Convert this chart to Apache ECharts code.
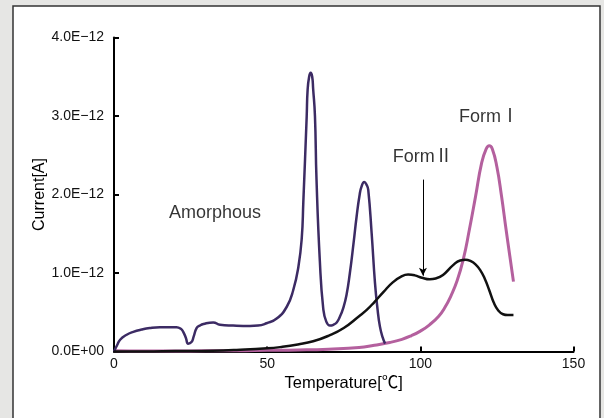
<!DOCTYPE html>
<html>
<head>
<meta charset="utf-8">
<script src="https://cdn.jsdelivr.net/npm/echarts@6/dist/echarts.min.js"></script>
<style>
  html, body { margin: 0; padding: 0; background: #e6e6e4; }
  #chart { width: 604px; height: 418px; }
</style>
</head>
<body>
<div id="chart"></div>
<script>
// Temperature axis (°C) and current readings in units of 1E-12 A
const amorphousT = [0, 1, 2, 4, 6.3, 9, 11.7, 15, 17.2, 20.4, 21.8, 22.6, 23.5, 24.2, 25.3, 26, 27, 28, 29.2, 32.4, 34.6, 38.9, 44.4, 47, 49.8, 53.1, 56.4, 58.5, 60.2, 61.3, 61.8, 62.9, 63.2, 63.7, 64.2, 64.7, 65, 65.6, 66.1, 67.2, 68.3, 69.3, 70.5, 71.6, 72.7, 73.7, 74.8, 75.9, 77, 78.2, 79.2, 80.2, 80.8, 81.7, 82.5, 83, 84.1, 85.2, 86, 86.8, 87.7, 88.5];
const amorphousI = [0, 0.08, 0.15, 0.21, 0.25, 0.28, 0.30, 0.31, 0.31, 0.31, 0.29, 0.25, 0.17, 0.10, 0.12, 0.19, 0.30, 0.33, 0.35, 0.37, 0.34, 0.33, 0.325, 0.33, 0.36, 0.42, 0.57, 0.78, 1.08, 1.45, 1.9, 2.99, 3.33, 3.5, 3.55, 3.5, 3.35, 3.0, 2.2, 1.15, 0.55, 0.38, 0.33, 0.34, 0.37, 0.44, 0.55, 0.72, 1.0, 1.38, 1.72, 2.0, 2.10, 2.16, 2.12, 2.06, 1.51, 0.87, 0.55, 0.32, 0.18, 0.1];

const form2T = [0, 10, 20, 32, 40, 50, 55, 60, 65, 70, 75, 80, 82.5, 85, 88, 91, 94, 96, 98.2, 100.5, 103.1, 105, 107.4, 110.7, 113, 114.8, 116.5, 118, 119.5, 121, 122.5, 124, 125.5, 127, 128.5, 130.4];
const form2I = [0, 0, 0.005, 0.01, 0.02, 0.04, 0.06, 0.09, 0.13, 0.2, 0.3, 0.45, 0.53, 0.63, 0.76, 0.88, 0.96, 0.98, 0.97, 0.94, 0.92, 0.93, 0.975, 1.1, 1.16, 1.17, 1.15, 1.11, 1.04, 0.93, 0.78, 0.62, 0.52, 0.475, 0.465, 0.465];

const form1T = [0, 10, 20, 30, 40, 50, 60, 70, 80, 85, 90, 94, 97, 100, 103, 106, 108, 110, 112, 114, 116, 118, 120, 121.5, 122.5, 123.5, 125, 126.5, 128, 129.2, 130.4];
const form1I = [0.01, 0.005, 0.005, 0.01, 0.01, 0.015, 0.02, 0.03, 0.05, 0.08, 0.115, 0.155, 0.2, 0.26, 0.34, 0.45, 0.56, 0.71, 0.9, 1.17, 1.55, 1.97, 2.4, 2.58, 2.62, 2.58, 2.35, 1.98, 1.55, 1.22, 0.89];

// Axis ticks
const tempTicks = [0, 50, 100, 150];
const currentTicks = [0, 1, 2, 3, 4];

// Curve labels placed in data coordinates
const labelNames = ['Amorphous', 'FormⅡ', 'FormⅠ'];
const labelT = [33, 100.8, 122.4];
const labelI = [1.76, 2.48, 2.99];

// Arrow pointing at the Form II shoulder
const arrowT = 100.85;
const arrowFrom = 2.19;
const arrowTo = 0.965;

const pairs = (xs, ys) => xs.map((x, i) => [x, ys[i]]);
const FONT = '"Liberation Sans", Arial, "Noto Sans CJK JP", sans-serif';

const chart = echarts.init(document.getElementById('chart'), null, { renderer: 'canvas' });

chart.setOption({
  backgroundColor: '#e6e6e4',
  animation: false,
  graphic: [{
    type: 'rect',
    z: -10,
    silent: true,
    shape: { x: 13, y: 6, width: 587, height: 430 },
    style: { fill: '#ffffff', stroke: '#333333', lineWidth: 1.5 }
  }],
  grid: { left: 114, right: 30.5, top: 37.5, bottom: 66.5 },
  xAxis: {
    type: 'value',
    min: tempTicks[0],
    max: tempTicks[tempTicks.length - 1],
    interval: 50,
    name: 'Temperature[℃]',
    nameLocation: 'middle',
    nameGap: 24,
    nameMoveOverlap: false,
    nameTextStyle: { fontFamily: FONT, fontSize: 16.5, color: '#000' },
    axisLine: { lineStyle: { color: '#000', width: 2 } },
    axisTick: { inside: true, length: 5, lineStyle: { color: '#000', width: 2 } },
    axisLabel: { fontFamily: FONT, fontSize: 14, color: '#111', margin: 6 },
    splitLine: { show: false }
  },
  yAxis: {
    type: 'value',
    min: currentTicks[0],
    max: currentTicks[currentTicks.length - 1],
    interval: 1,
    name: 'Current[A]',
    nameLocation: 'middle',
    nameGap: 66,
    nameMoveOverlap: false,
    nameTextStyle: { fontFamily: FONT, fontSize: 16, color: '#000' },
    axisLine: { show: true, lineStyle: { color: '#000', width: 2 } },
    axisTick: { show: true, inside: true, length: 5, lineStyle: { color: '#000', width: 2 } },
    axisLabel: {
      fontFamily: FONT, fontSize: 14, color: '#111', margin: 10,
      formatter: v => v === 0 ? '0.0E+00' : v.toFixed(1) + 'E−12'
    },
    splitLine: { show: false }
  },
  series: [
    {
      name: 'Form I',
      type: 'line',
      data: pairs(form1T, form1I),
      showSymbol: false,
      smooth: 0.5,
      lineStyle: { color: '#b4609e', width: 3 },
      z: 2
    },
    {
      name: 'Amorphous',
      type: 'line',
      data: pairs(amorphousT, amorphousI),
      showSymbol: false,
      smooth: 0.5,
      lineStyle: { color: '#3c2b64', width: 2.5 },
      z: 3
    },
    {
      name: 'Form II',
      type: 'line',
      data: pairs(form2T, form2I),
      showSymbol: false,
      smooth: 0.5,
      lineStyle: { color: '#111111', width: 2.5 },
      z: 4,
      markLine: {
        silent: true,
        symbol: ['none', 'arrow'],
        symbolSize: [6, 8],
        label: { show: false },
        lineStyle: { color: '#000', width: 1, type: 'solid' },
        data: [[{ coord: [arrowT, arrowFrom] }, { coord: [arrowT, arrowTo] }]]
      }
    },
    {
      name: 'labels',
      type: 'scatter',
      silent: true,
      symbolSize: 1,
      itemStyle: { color: 'transparent' },
      data: labelNames.map((n, i) => ({ name: n, value: [labelT[i], labelI[i]] })),
      label: {
        show: true,
        position: 'inside',
        formatter: '{b}',
        fontFamily: FONT,
        fontSize: 18,
        color: '#000'
      },
      z: 5
    }
  ]
});
</script>
</body>
</html>
